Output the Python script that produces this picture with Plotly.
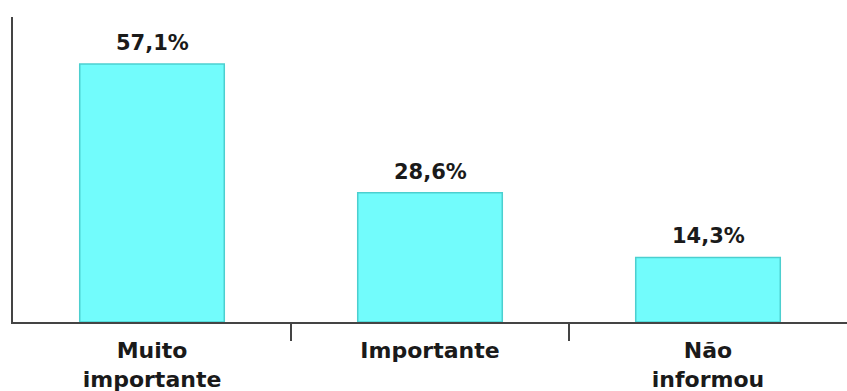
import plotly.graph_objects as go

categories = ["Muito<br>importante", "Importante", "Não<br>informou"]
values = [57.1, 28.6, 14.3]
labels = ["57,1%", "28,6%", "14,3%"]
boundary_ticks = [0.5, 1.5]

fig = go.Figure()
fig.add_trace(go.Bar(
    x=categories, y=values,
    marker=dict(color="#72FCFC", line=dict(color="#4CCFCF", width=1.5)),
    width=0.52,
))
for c, v, t in zip(categories, values, labels):
    fig.add_annotation(x=c, y=v, text=t, showarrow=False, yanchor="bottom", yshift=7,
                       font=dict(family="DejaVu Sans", size=21, color="#1a1a1a", weight="bold"))
# invisible overlay axis carrying the boundary tick marks
fig.add_trace(go.Scatter(x=boundary_ticks, y=[0, 0], xaxis="x2", mode="markers",
                         marker=dict(opacity=0), hoverinfo="skip", showlegend=False))

fig.update_layout(
    width=847, height=391,
    margin=dict(l=13, r=0, t=17, b=69, autoexpand=False),
    paper_bgcolor="white", plot_bgcolor="white",
    showlegend=False,
    font=dict(family="DejaVu Sans", color="#1a1a1a"),
    xaxis=dict(showline=True, linecolor="#444", linewidth=2, ticks="",
               showgrid=False, zeroline=False, ticklabelstandoff=8, automargin=False,
               tickfont=dict(family="DejaVu Sans", size=22, color="#1a1a1a", weight="bold")),
    xaxis2=dict(overlaying="x", side="bottom", range=[-0.5, 2.5], tickvals=boundary_ticks,
                showticklabels=False, ticks="outside", ticklen=18, tickwidth=2, automargin=False,
                tickcolor="#444", showline=False, showgrid=False, zeroline=False),
    yaxis=dict(range=[0, 67.5], showline=True, linecolor="#444", linewidth=2, automargin=False,
               showticklabels=False, ticks="", showgrid=False, zeroline=False),
)
fig.write_html("out.html")
